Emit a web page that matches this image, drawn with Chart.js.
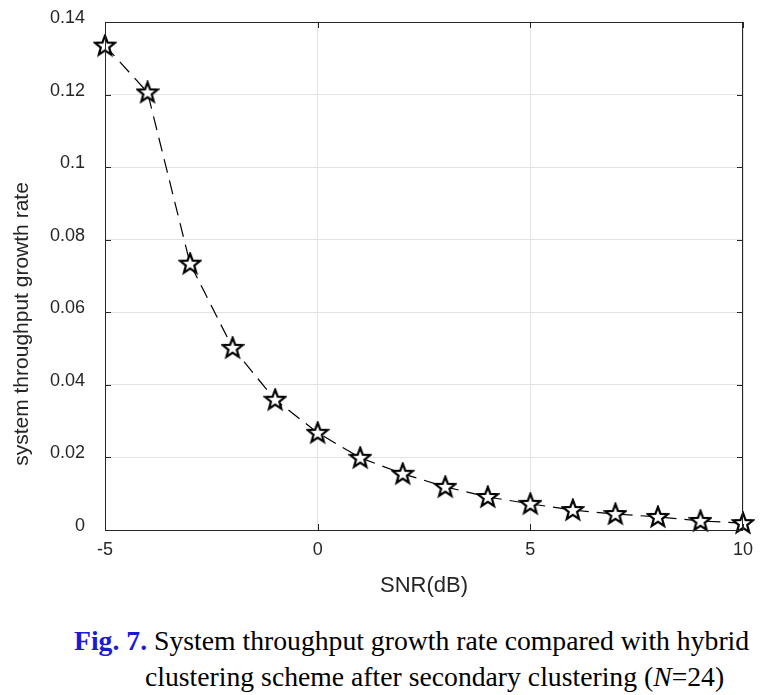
<!DOCTYPE html>
<html>
<head>
<meta charset="utf-8">
<script src="https://cdn.jsdelivr.net/npm/chart.js@4"></script>
<style>
  body { margin: 0; background: #fff; width: 775px; height: 695px; position: relative; overflow: hidden; }
  #wrap { position: absolute; left: 0; top: 0; width: 775px; height: 612px; }
  .cap { position: absolute; font-family: "Liberation Serif", "Times New Roman", serif; font-size: 27.7px; color: #000; white-space: nowrap; }
  .cap b { color: #1a1ad6; }
</style>
</head>
<body>
<div id="wrap"><canvas id="chart"></canvas></div>
<div class="cap" style="left:74px; top:625px;"><b>Fig. 7.</b> System throughput growth rate compared with hybrid</div>
<div class="cap" style="left:145px; top:661px;">clustering scheme after secondary clustering (<i>N</i>=24)</div>
<script>
const snr = [-5, -4, -3, -2, -1, 0, 1, 2, 3, 4, 5, 6, 7, 8, 9, 10];
const growthRate = [0.1335, 0.1206, 0.0734, 0.0502, 0.0359, 0.0268, 0.0199, 0.0155,
                    0.0119, 0.0091, 0.0072, 0.0055, 0.0044, 0.0036, 0.0025, 0.0019];
const yTicks = [0, 0.02, 0.04, 0.06, 0.08, 0.1, 0.12, 0.14];
const yTitle = 'system throughput growth rate';

// five-point star marker
function makeStar() {
    const c = document.createElement('canvas');
    c.width = 24; c.height = 24;
    const g = c.getContext('2d');
    g.beginPath();
    for (let i = 0; i < 10; i++) {
        const r = i % 2 === 0 ? 10.5 : 4.4;
        const a = -Math.PI / 2 + i * Math.PI / 5;
        const px = 12 + r * Math.cos(a), py = 12.5 + r * Math.sin(a);
        if (i === 0) g.moveTo(px, py); else g.lineTo(px, py);
    }
    g.closePath();
    g.fillStyle = '#fff';
    g.fill();
    g.lineWidth = 2.2;
    g.strokeStyle = '#000';
    g.stroke();
    return c;
}

// box round the axes, inward ticks, and the y label (sits a bit low in the original)
const boxPlugin = {
    id: 'box',
    afterDatasetsDraw(chart) {
        const { ctx, chartArea: a, scales } = chart;
        ctx.save();
        ctx.strokeStyle = '#262626';
        ctx.lineWidth = 1;
        ctx.strokeRect(a.left + 0.5, a.top + 0.5, a.right - a.left - 1, a.bottom - a.top);
        ctx.beginPath();
        scales.x.ticks.forEach(t => {
            const px = Math.round(scales.x.getPixelForValue(t.value)) + 0.5;
            ctx.moveTo(px, a.bottom); ctx.lineTo(px, a.bottom - 6);
            ctx.moveTo(px, a.top); ctx.lineTo(px, a.top + 6);
        });
        scales.y.ticks.forEach(t => {
            const py = Math.round(scales.y.getPixelForValue(t.value)) + 0.5;
            ctx.moveTo(a.left, py); ctx.lineTo(a.left + 6, py);
            ctx.moveTo(a.right, py); ctx.lineTo(a.right - 6, py);
        });
        ctx.stroke();

        ctx.translate(22, 324);
        ctx.rotate(-Math.PI / 2);
        ctx.fillStyle = '#262626';
        ctx.font = '21px "Liberation Sans", Arial, sans-serif';
        ctx.textAlign = 'center';
        ctx.textBaseline = 'middle';
        ctx.fillText(yTitle, 0, 0);
        ctx.restore();
    }
};

Chart.defaults.font.family = '"Liberation Sans", Arial, sans-serif';
Chart.defaults.color = '#262626';

new Chart(document.getElementById('chart'), {
    type: 'line',
    data: {
        datasets: [{
            data: snr.map((s, i) => ({ x: s, y: growthRate[i] })),
            borderColor: '#000',
            borderWidth: 1.2,
            borderDash: [14, 8],
            tension: 0,
            pointStyle: makeStar(),
            pointRadius: 10,
            clip: false
        }]
    },
    options: {
        responsive: true,
        maintainAspectRatio: false,
        animation: false,
        layout: { padding: { top: 22, right: 32, left: 0, bottom: 0 } },
        plugins: { legend: { display: false }, tooltip: { enabled: false } },
        scales: {
            x: {
                type: 'linear',
                min: -5, max: 10,
                ticks: { stepSize: 5, font: { size: 18 }, padding: 9 },
                grid: { color: '#e3e3e3', tickLength: 0 },
                border: { display: false },
                title: { display: true, text: 'SNR(dB)', font: { size: 22 }, padding: { top: 2, bottom: 13 } },
                afterFit(s) { s.height = 82; }
            },
            y: {
                min: 0, max: 0.14,
                afterBuildTicks(s) { s.ticks = yTicks.map(v => ({ value: v })); },
                ticks: {
                    font: { size: 18 }, padding: 2, labelOffset: -4,
                    callback: v => String(Number(v.toFixed(2)))
                },
                grid: { color: '#e3e3e3', tickLength: 18, tickColor: 'rgba(0,0,0,0)' },
                border: { display: false },
                title: { display: false },
                afterFit(s) { s.width = 105; }
            }
        }
    },
    plugins: [boxPlugin]
});
</script>
</body>
</html>
